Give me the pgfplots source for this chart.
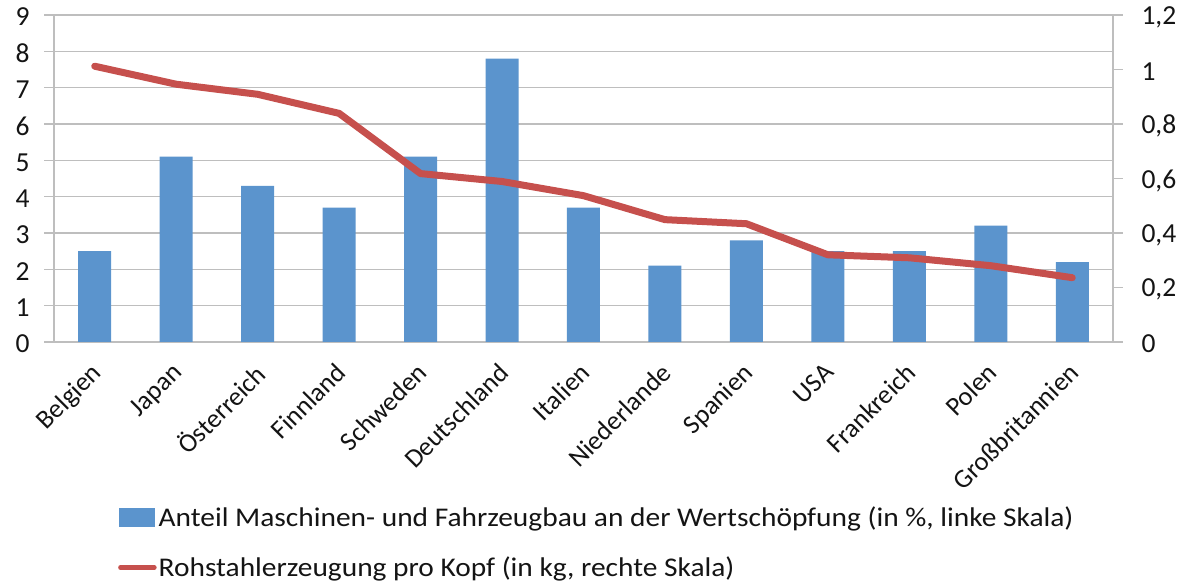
\documentclass[border=0pt]{standalone}
\usepackage{pgfplots}
\pgfplotsset{compat=1.18}
\usepackage{fontspec}
\setmainfont{Carlito}
\definecolor{barblue}{RGB}{91,148,205}
\definecolor{linered}{RGB}{198,80,77}
\definecolor{gridgray}{RGB}{190,190,190}
\definecolor{txt}{RGB}{20,20,20}
\pgfplotstableread{
x v
0 2.5
1 5.1
2 4.3
3 3.7
4 5.1
5 7.8
6 3.7
7 2.1
8 2.8
9 2.5
10 2.5
11 3.2
12 2.2
}\bars
\pgfplotstableread{
x v
0 1.012
1 0.946
2 0.909
3 0.839
4 0.618
5 0.589
6 0.537
7 0.449
8 0.434
9 0.320
10 0.309
11 0.280
12 0.236
}\steel
\begin{document}
\begin{tikzpicture}
\useasboundingbox (0,0) rectangle (1187bp,587bp);
\pgfplotsset{
  common/.style={
    at={(54bp,245bp)}, anchor=south west,
    scale only axis, width=1059bp, height=327bp,
    xmin=-0.5, xmax=12.5,
    /pgf/number format/assume math mode=true,
    tick label style={font=\fontsize{27.5bp}{32bp}\selectfont, text=txt},
    axis line style={draw=gridgray, line width=1.6bp},
    major tick style={draw=gridgray, line width=1.6bp},
    minor tick style={draw=gridgray, line width=1.6bp},
    major tick length=10bp, minor tick length=9bp,
    tick align=outside,
  }
}
\begin{axis}[common,
  ymin=0, ymax=9, ytick={0,1,...,9},
  axis y line*=left, axis x line*=bottom,
  ymajorgrids, grid style={draw=gridgray, line width=1.6bp},
  xtick={0,...,12},
  xticklabels={Belgien,Japan,Österreich,Finnland,Schweden,Deutschland,Italien,Niederlande,Spanien,USA,Frankreich,Polen,Großbritannien},
  x tick label style={xshift=-5bp, yshift=-8bp, rotate=45, anchor=north east, font=\fontsize{26.5bp}{30bp}\selectfont, inner sep=1bp},
  xtick style={draw=none},
  minor xtick={-0.5,0.5,...,12.5},
  yticklabel style={xshift=-11bp, yshift=-2bp},
]
\addplot[ybar, bar width=33bp, fill=barblue, draw=none, bar shift=0pt] table[x=x,y=v] {\bars};
\end{axis}
\begin{axis}[common,
  ymin=0, ymax=1.2, ytick={0,0.2,0.4,0.6,0.8,1,1.2},
  axis y line*=right, axis x line=none,
  /pgf/number format/use comma,
  yticklabel style={xshift=15bp, yshift=-2bp},
  legend style={at={(0.0604,-0.50)}, anchor=north west, draw=none, fill=none,
    font=\fontsize{27bp}{31bp}\selectfont, text=txt, row sep=27bp, column sep=1bp,
    inner sep=0pt, nodes={inner sep=1bp}},
  legend cell align=left,
]
\addlegendimage{legend image code/.code={\fill[barblue] (0bp,-9bp) rectangle (35bp,9bp);}}
\addlegendentry{\scalebox{1.09}[1]{Anteil Maschinen- und Fahrzeugbau an der Wertschöpfung (in \%, linke Skala)}}
\addplot[linered, line width=7bp, line join=round, line cap=round,
  legend image code/.code={\draw[linered, line width=4.5bp, line cap=round] (1bp,0bp) -- (35bp,0bp);}] table[x=x,y=v] {\steel};
\addlegendentry{\scalebox{1.09}[1]{Rohstahlerzeugung pro Kopf (in kg, rechte Skala)}}
\end{axis}
\end{tikzpicture}
\end{document}
